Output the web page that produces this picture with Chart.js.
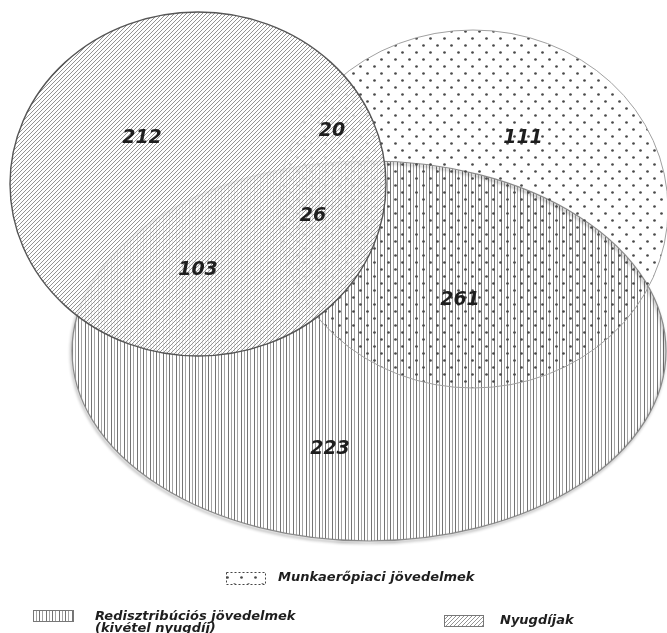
<!DOCTYPE html>
<html>
<head>
<meta charset="utf-8">
<script src="https://cdn.jsdelivr.net/npm/chart.js@4/dist/chart.umd.min.js"></script>
<style>
html,body{margin:0;padding:0;background:#fff}
#wrap{width:667px;height:633px;position:relative}
</style>
</head>
<body>
<div id="wrap"><canvas id="venn"></canvas></div>
<script>
// halmazok (ellipszisek) - kozeppont es sugarak a tengelyek egysegeiben
var halmazNevek = ["Munkaerőpiaci jövedelmek", "Redisztribúciós jövedelmek|(kivétel nyugdíj)", "Nyugdíjak"];
var kozepX = [473, 369, 198];
var kozepY = [209, 351, 184];
var sugarX = [195, 297, 188];
var sugarY = [179, 190, 172];

// metszetek: elemszamok es a feliratok helye
var reszErtekek = [212, 20, 111, 26, 103, 261, 223];
var reszX = [142, 332, 523, 313, 198, 460, 330];
var reszY = [138, 131, 138, 216, 270, 300, 449];

function minta(tipus){
    var c = document.createElement("canvas");
    var g = c.getContext("2d");
    if(tipus=="pont"){
        c.width=14; c.height=14;
        g.fillStyle="#4a4a4a";
        g.beginPath(); g.arc(3.5,3.5,1.35,0,Math.PI*2); g.fill();
        g.beginPath(); g.arc(10.5,10.5,1.35,0,Math.PI*2); g.fill();
    }
    else if(tipus=="fugg"){
        c.width=13; c.height=4;
        g.fillStyle="#747474"; g.fillRect(0,0,1,4); g.fillRect(7,0,1,4);
        g.fillStyle="#a4a4a4"; g.fillRect(3,0,1,4); g.fillRect(10,0,1,4);
    }
    else{
        c.width=4; c.height=4;
        g.fillStyle="#949494";
        for(let i=0;i<4;i++){ g.fillRect(i,3-i,1,1); }
    }
    return g.createPattern(c,"repeat");
}

var ctx0 = document.getElementById("venn").getContext("2d");
var mintak = [minta("pont"), minta("fugg"), minta("ferde")];

function ellipszis(ctx, chart, i){
    var xs = chart.scales.x, ys = chart.scales.y;
    var px = xs.getPixelForValue(kozepX[i]);
    var py = ys.getPixelForValue(kozepY[i]);
    var rx = Math.abs(xs.getPixelForValue(kozepX[i]+sugarX[i]) - px);
    var ry = Math.abs(ys.getPixelForValue(kozepY[i]+sugarY[i]) - py);
    ctx.beginPath();
    ctx.ellipse(px, py, rx, ry, 0, 0, Math.PI*2);
}

var vennRajz = {
    id: "vennRajz",
    beforeDatasetsDraw(chart){
        var ctx = chart.ctx;
        ctx.save();
        // redisztribucio - fuggoleges vonalak
        ellipszis(ctx, chart, 1);
        ctx.fillStyle = mintak[1]; ctx.fill();
        ctx.save();
        ctx.shadowColor="rgba(0,0,0,0.45)"; ctx.shadowBlur=3; ctx.shadowOffsetX=-1; ctx.shadowOffsetY=2;
        ctx.strokeStyle="#8a8a8a"; ctx.lineWidth=1.2; ctx.stroke();
        ctx.restore();
        // munkaeropiaci - pontok
        ellipszis(ctx, chart, 0);
        ctx.fillStyle = mintak[0]; ctx.fill();
        ctx.strokeStyle="#a0a0a0"; ctx.lineWidth=1; ctx.stroke();
        // nyugdijak - ferde vonalak, felig atlatszo
        ellipszis(ctx, chart, 2);
        ctx.fillStyle="rgba(255,255,255,0.8)"; ctx.fill();
        ctx.fillStyle = mintak[2]; ctx.fill();
        ctx.strokeStyle="#555"; ctx.lineWidth=1.4; ctx.stroke();
        ctx.restore();
    },
    afterDatasetsDraw(chart){
        var ctx = chart.ctx;
        var meta = chart.getDatasetMeta(0);
        ctx.save();
        ctx.fillStyle="#1e1e1e";
        ctx.font='italic bold 19px "DejaVu Sans"';
        ctx.textAlign="center"; ctx.textBaseline="middle";
        meta.data.forEach((pt,i)=>{
            ctx.fillText(String(reszErtekek[i]), pt.x, pt.y);
        });

        // jelmagyarazat
        var dobozok = [[226,572,39,12],[33,610,40,11],[444,615,39,11]];
        var szovegHely = [[278,578],[95,617],[500,621]];
        ctx.font='italic bold 13px "DejaVu Sans"';
        ctx.textAlign="left";
        for(let i=0;i<3;i++){
            var d = dobozok[i];
            ctx.fillStyle="#fff"; ctx.fillRect(d[0],d[1],d[2],d[3]);
            ctx.fillStyle=mintak[i]; ctx.fillRect(d[0],d[1],d[2],d[3]);
            ctx.strokeStyle = i==0 ? "#444" : "#777";
            ctx.lineWidth=1;
            if(i==0) ctx.setLineDash([2,2]);
            ctx.strokeRect(d[0]+0.5,d[1]+0.5,d[2],d[3]);
            ctx.setLineDash([]);
            ctx.fillStyle="#1e1e1e";
            var sorok = halmazNevek[i].split("|");
            sorok.forEach((s,j)=>{
                ctx.fillText(s, szovegHely[i][0], szovegHely[i][1]+j*12);
            });
        }
        ctx.restore();
    }
};

var chart = new Chart(ctx0, {
    type: "scatter",
    data: {
        datasets: [{
            label: "metszetek",
            data: reszErtekek.map((v,i)=>({x: reszX[i], y: reszY[i]})),
            pointRadius: 0,
            pointHoverRadius: 0
        }]
    },
    options: {
        responsive: true,
        maintainAspectRatio: false,
        animation: false,
        layout: { padding: 0 },
        plugins: { legend: { display: false }, tooltip: { enabled: false } },
        scales: {
            x: { type: "linear", min: 0, max: 667, display: false },
            y: { type: "linear", min: 0, max: 633, reverse: true, display: false }
        }
    },
    plugins: [vennRajz]
});
</script>
</body>
</html>
